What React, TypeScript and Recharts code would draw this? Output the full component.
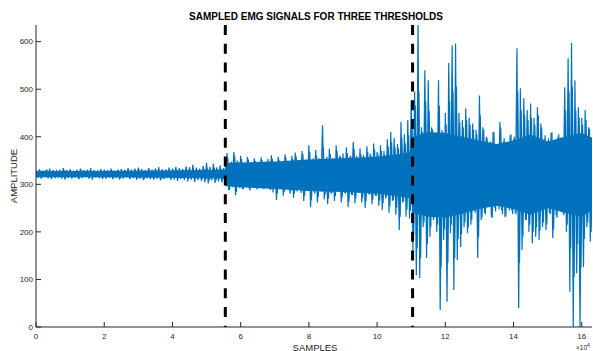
import { Area, ComposedChart, Line, ReferenceLine, XAxis, YAxis } from "recharts"

// signal envelope, one value pair per 1000 samples
const BIN = 1000
const upper = [
  330, 332, 329, 331, 333, 330, 328, 331, 334, 330,
  332, 329, 331, 333, 330, 331, 334, 330, 329, 332,
  331, 330, 333, 329, 331, 332, 330, 334, 331, 333,
  335, 332, 330, 334, 331, 333, 336, 332, 331, 335,
  333, 337, 334, 332, 338, 336, 341, 335, 333, 339,
  345, 337, 343, 336, 340, 334,
  366, 345, 368, 350, 360, 340, 358, 342, 355, 338,
  357, 340, 353, 361, 342, 358, 345, 363, 348, 360,
  367, 348, 370, 352, 382, 350, 372, 355, 424, 352,
  375, 355, 382, 360, 365, 378, 358, 389, 360, 376,
  362, 380, 365, 386, 368, 382, 370, 395, 410, 398,
  385, 431, 405, 435,
  477, 495, 635, 420, 540, 519, 420, 408, 519, 414,
  450, 555, 592, 596, 450, 435, 460, 440, 428, 414,
  487, 420, 400, 385, 410, 372, 431, 390, 378, 403,
  395, 586, 502, 481, 456, 470, 440, 462, 428, 395,
  390, 408, 385, 400, 380, 504, 565, 597, 519, 462,
  440, 456, 420, 399,
]
const lower = [
  314, 312, 315, 313, 311, 314, 316, 312, 310, 313,
  312, 314, 311, 313, 315, 312, 310, 314, 313, 311,
  312, 314, 311, 313, 310, 312, 315, 311, 313, 310,
  312, 309, 313, 311, 310, 312, 308, 311, 313, 309,
  310, 307, 311, 309, 306, 310, 305, 309, 307, 304,
  302, 308, 303, 306, 304, 308,
  288, 300, 277, 298, 290, 302, 291, 299, 293, 304,
  292, 300, 290, 283, 267, 298, 276, 295, 280, 272,
  285, 295, 265, 290, 252, 285, 262, 290, 268, 258,
  280, 265, 290, 262, 282, 252, 278, 260, 285, 262,
  250, 280, 258, 276, 255, 246, 270, 240, 265, 236,
  204, 262, 232, 228,
  160, 109, 103, 210, 145, 190, 225, 200, 36, 183,
  53, 197, 78, 141, 168, 210, 197, 215, 252, 145,
  225, 240, 273, 231, 250, 260, 245, 231, 250, 245,
  240, 40, 162, 225, 200, 176, 190, 183, 210, 204,
  240, 187, 235, 250, 240, 200, 74, 0, 113, 0,
  126, 210, 180, 200,
]

// typical (non-peak) swing in each 1000-sample bin
const innerUpper = [
  326, 327, 325, 328, 326, 327, 325, 326, 328, 326,
  327, 325, 326, 328, 326, 327, 326, 325, 327, 326,
  327, 326, 328, 325, 327, 326, 327, 328, 326, 327,
  328, 326, 327, 329, 326, 328, 327, 326, 328, 327,
  328, 330, 327, 329, 331, 328, 330, 329, 327, 332,
  333, 329, 335, 330, 332, 328,
  356, 348, 360, 346, 353, 344, 352, 343, 349, 345,
  351, 342, 348, 354, 346, 352, 344, 357, 348, 353,
  359, 351, 363, 349, 368, 355, 360, 352, 378, 358,
  364, 353, 370, 358, 355, 366, 360, 374, 354, 363,
  357, 368, 360, 373, 364, 370, 362, 380, 388, 378,
  376, 398, 386, 403,
  435, 465, 495, 410, 475, 455, 415, 405, 465, 410,
  425, 475, 495, 505, 430, 420, 435, 425, 415, 405,
  445, 415, 397, 390, 410, 385, 420, 397, 387, 405,
  400, 495, 455, 445, 435, 440, 425, 445, 420, 403,
  397, 410, 393, 405, 390, 455, 495, 505, 455, 440,
  425, 435, 417, 405,
]
const innerLower = [
  317, 316, 318, 316, 317, 315, 318, 317, 316, 318,
  316, 317, 315, 317, 318, 316, 317, 318, 316, 317,
  316, 318, 316, 317, 315, 317, 318, 316, 317, 315,
  316, 314, 317, 316, 315, 317, 314, 316, 317, 315,
  315, 313, 316, 314, 312, 315, 311, 314, 312, 310,
  309, 313, 308, 312, 310, 313,
  288, 294, 284, 292, 290, 296, 287, 293, 289, 295,
  290, 294, 288, 292, 280, 291, 284, 293, 286, 281,
  290, 282, 276, 287, 267, 280, 274, 284, 278, 270,
  282, 275, 286, 272, 280, 264, 277, 270, 284, 272,
  264, 278, 268, 275, 266, 260, 274, 254, 267, 250,
  232, 264, 247, 244,
  195, 165, 145, 220, 175, 210, 230, 215, 125, 205,
  135, 215, 145, 185, 195, 220, 210, 225, 240, 190,
  230, 237, 255, 230, 243, 247, 237, 233, 245, 237,
  237, 135, 190, 225, 215, 200, 210, 203, 220, 215,
  237, 205, 230, 243, 235, 215, 165, 105, 175, 125,
  185, 220, 200, 215,
]

// solid core of the signal
const coreSamples = [0, 20000, 40000, 50000, 55400, 55600, 60000, 70000, 80000, 90000, 100000, 105000, 110300, 110500, 115000, 120000, 125000, 130000, 135000, 140000, 145000, 150000, 155000, 160000, 163000]
const coreUpper = [328, 328, 329, 330, 331, 345, 346, 348, 352, 355, 358, 362, 368, 400, 410, 408, 400, 392, 385, 392, 405, 390, 400, 408, 398]
const coreLower = [315, 315, 314, 313, 312, 296, 294, 290, 286, 284, 280, 276, 270, 240, 232, 230, 238, 248, 255, 248, 236, 250, 240, 232, 245]

const thresholds = [55500, 110400]
const xTicks = [0, 20000, 40000, 60000, 80000, 100000, 120000, 140000, 160000]
const yTicks = [0, 100, 200, 300, 400, 500, 600]
const X_MAX = 163000
const Y_MAX = 635

const FONT = "'Liberation Sans', Arial, Helvetica, sans-serif"
const AXIS = "#262626"
const BLUE = "#0072BD"

const signal = upper.flatMap((hi, i) => [
  { sample: i * BIN, amplitude: hi },
  { sample: i * BIN + BIN / 2, amplitude: lower[i] },
])
const swing = innerUpper.flatMap((hi, i) => [
  { sample: i * BIN + BIN / 4, amplitude: hi },
  { sample: i * BIN + (3 * BIN) / 4, amplitude: innerLower[i] },
])
const core = coreSamples.map((s, i) => ({ sample: s, band: [coreLower[i], coreUpper[i]] }))

export default function App() {
  return (
    <div style={{ position: "absolute", left: 0, top: 0, width: 593, height: 351, background: "#fff" }}>
      <ComposedChart width={593} height={351} margin={{ top: 25, right: 1, bottom: 0, left: 0 }}>
        <XAxis
          dataKey="sample"
          type="number"
          domain={[0, X_MAX]}
          ticks={xTicks}
          interval={0}
          allowDataOverflow
          height={24}
          tickSize={-5}
          tickMargin={11}
          stroke={AXIS}
          tickFormatter={(v) => String(v / 10000)}
          tick={{ fontSize: 8, fill: AXIS, fontFamily: FONT }}
        />
        <XAxis
          xAxisId="top"
          orientation="top"
          type="number"
          domain={[0, X_MAX]}
          ticks={xTicks}
          interval={0}
          height={0}
          tickSize={-5}
          tick={false}
          stroke={AXIS}
        />
        <YAxis
          type="number"
          domain={[0, Y_MAX]}
          ticks={yTicks}
          interval={0}
          allowDataOverflow
          width={36}
          tickSize={-5}
          tickMargin={8}
          stroke={AXIS}
          tick={{ fontSize: 8, fill: AXIS, fontFamily: FONT }}
        />
        <YAxis
          yAxisId="right"
          orientation="right"
          type="number"
          domain={[0, Y_MAX]}
          ticks={yTicks}
          interval={0}
          width={0}
          tickSize={-5}
          tick={false}
          stroke={AXIS}
        />
        <Area
          data={core}
          dataKey="band"
          type="linear"
          stroke="none"
          fill={BLUE}
          fillOpacity={1}
          isAnimationActive={false}
        />
        <Line
          data={swing}
          dataKey="amplitude"
          type="linear"
          stroke={BLUE}
          strokeWidth={1.2}
          dot={false}
          activeDot={false}
          isAnimationActive={false}
        />
        <Line
          data={signal}
          dataKey="amplitude"
          type="linear"
          stroke={BLUE}
          strokeWidth={1.2}
          dot={false}
          activeDot={false}
          isAnimationActive={false}
        />
        {thresholds.map((t) => (
          <ReferenceLine
            key={t}
            segment={[
              { x: t, y: Y_MAX },
              { x: t, y: 0 },
            ]}
            stroke="#000"
            strokeWidth={3}
            strokeDasharray="10 8.8"
          />
        ))}
      </ComposedChart>
      <svg
        width={593}
        height={351}
        style={{ position: "absolute", left: 0, top: 0, pointerEvents: "none" }}
        fontFamily={FONT}
      >
        <text x={316} y={19.5} textAnchor="middle" fontSize={10} fontWeight="bold" fill="#000">
          SAMPLED EMG SIGNALS FOR THREE THRESHOLDS
        </text>
        <text x={315} y={350.5} textAnchor="middle" fontSize={9.5} fill={AXIS}>
          SAMPLES
        </text>
        <text
          x={16.5}
          y={176}
          textAnchor="middle"
          fontSize={9.5}
          fill={AXIS}
          transform="rotate(-90 16.5 176)"
        >
          AMPLITUDE
        </text>
        <text x={576} y={350} fontSize={6.5} fill={AXIS}>
          ×10
          <tspan dy={-3} fontSize={5}>4</tspan>
        </text>
      </svg>
    </div>
  )
}
